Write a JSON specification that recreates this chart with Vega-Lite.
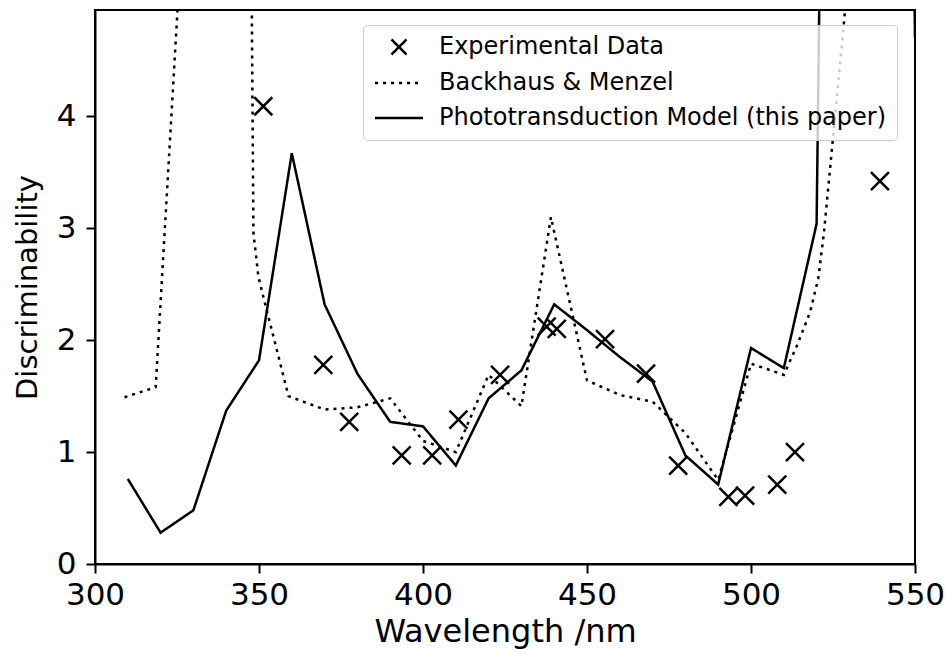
{
  "$schema": "https://vega.github.io/schema/vega-lite/v6.json",
  "width": 820,
  "height": 554,
  "autosize": {"type": "none"},
  "padding": {"left": 95, "top": 10, "right": 30, "bottom": 91},
  "background": "white",
  "config": {
    "view": {"stroke": "black", "strokeWidth": 2},
    "font": "DejaVu Sans",
    "axis": {
      "grid": false,
      "domainColor": "black",
      "domainWidth": 2,
      "tickColor": "black",
      "tickWidth": 2,
      "tickSize": 9,
      "labelFlush": false,
      "labelOverlap": false,
      "labelFont": "DejaVu Sans",
      "labelFontSize": 31,
      "labelColor": "black",
      "titleFont": "DejaVu Sans",
      "titleFontSize": 29,
      "titleFontWeight": "normal",
      "titleColor": "black"
    },
    "legend": {
      "orient": "none",
      "legendX": 268,
      "legendY": 15,
      "direction": "vertical",
      "padding": 10,
      "fillColor": "rgba(255,255,255,0.8)",
      "strokeColor": "#cccccc",
      "cornerRadius": 4,
      "symbolSize": 400,
      "symbolOffset": 14,
      "labelOffset": 28,
      "rowPadding": 11,
      "labelFont": "DejaVu Sans",
      "labelFontSize": 24,
      "labelColor": "black",
      "labelLimit": 1000,
      "symbolStrokeColor": "black",
      "symbolFillColor": "transparent",
      "symbolStrokeWidth": 2.5
    }
  },
  "data": {
    "values": [
      {"wl": 310, "val": 0.76, "series": "Phototransduction Model (this paper)"},
      {"wl": 320, "val": 0.28, "series": "Phototransduction Model (this paper)"},
      {"wl": 330, "val": 0.48, "series": "Phototransduction Model (this paper)"},
      {"wl": 340, "val": 1.37, "series": "Phototransduction Model (this paper)"},
      {"wl": 350, "val": 1.82, "series": "Phototransduction Model (this paper)"},
      {"wl": 360, "val": 3.67, "series": "Phototransduction Model (this paper)"},
      {"wl": 370, "val": 2.32, "series": "Phototransduction Model (this paper)"},
      {"wl": 380, "val": 1.70, "series": "Phototransduction Model (this paper)"},
      {"wl": 390, "val": 1.27, "series": "Phototransduction Model (this paper)"},
      {"wl": 400, "val": 1.23, "series": "Phototransduction Model (this paper)"},
      {"wl": 410, "val": 0.88, "series": "Phototransduction Model (this paper)"},
      {"wl": 420, "val": 1.48, "series": "Phototransduction Model (this paper)"},
      {"wl": 430, "val": 1.73, "series": "Phototransduction Model (this paper)"},
      {"wl": 440, "val": 2.32, "series": "Phototransduction Model (this paper)"},
      {"wl": 450, "val": 2.09, "series": "Phototransduction Model (this paper)"},
      {"wl": 460, "val": 1.85, "series": "Phototransduction Model (this paper)"},
      {"wl": 470, "val": 1.63, "series": "Phototransduction Model (this paper)"},
      {"wl": 480, "val": 0.97, "series": "Phototransduction Model (this paper)"},
      {"wl": 490, "val": 0.71, "series": "Phototransduction Model (this paper)"},
      {"wl": 500, "val": 1.93, "series": "Phototransduction Model (this paper)"},
      {"wl": 510, "val": 1.75, "series": "Phototransduction Model (this paper)"},
      {"wl": 520, "val": 3.04, "series": "Phototransduction Model (this paper)"},
      {"wl": 530, "val": 27, "series": "Phototransduction Model (this paper)"},
      {"wl": 540, "val": 30, "series": "Phototransduction Model (this paper)"},
      {"wl": 550, "val": 4.7, "series": "Phototransduction Model (this paper)"},

      {"wl": 309, "val": 1.49, "series": "Backhaus & Menzel"},
      {"wl": 318.5, "val": 1.58, "series": "Backhaus & Menzel"},
      {"wl": 330, "val": 7.4, "series": "Backhaus & Menzel"},
      {"wl": 347, "val": 8.2, "series": "Backhaus & Menzel"},
      {"wl": 348.3, "val": 2.96, "series": "Backhaus & Menzel"},
      {"wl": 349.8, "val": 2.57, "series": "Backhaus & Menzel"},
      {"wl": 351.3, "val": 2.39, "series": "Backhaus & Menzel"},
      {"wl": 359, "val": 1.50, "series": "Backhaus & Menzel"},
      {"wl": 370, "val": 1.38, "series": "Backhaus & Menzel"},
      {"wl": 380, "val": 1.40, "series": "Backhaus & Menzel"},
      {"wl": 390, "val": 1.48, "series": "Backhaus & Menzel"},
      {"wl": 400, "val": 1.10, "series": "Backhaus & Menzel"},
      {"wl": 410, "val": 1.00, "series": "Backhaus & Menzel"},
      {"wl": 420, "val": 1.69, "series": "Backhaus & Menzel"},
      {"wl": 430, "val": 1.41, "series": "Backhaus & Menzel"},
      {"wl": 439, "val": 3.10, "series": "Backhaus & Menzel"},
      {"wl": 450, "val": 1.64, "series": "Backhaus & Menzel"},
      {"wl": 460, "val": 1.51, "series": "Backhaus & Menzel"},
      {"wl": 470, "val": 1.45, "series": "Backhaus & Menzel"},
      {"wl": 480, "val": 1.17, "series": "Backhaus & Menzel"},
      {"wl": 490, "val": 0.75, "series": "Backhaus & Menzel"},
      {"wl": 500, "val": 1.79, "series": "Backhaus & Menzel"},
      {"wl": 510, "val": 1.69, "series": "Backhaus & Menzel"},
      {"wl": 514, "val": 1.95, "series": "Backhaus & Menzel"},
      {"wl": 518, "val": 2.25, "series": "Backhaus & Menzel"},
      {"wl": 520.5, "val": 2.55, "series": "Backhaus & Menzel"},
      {"wl": 522.2, "val": 2.95, "series": "Backhaus & Menzel"},
      {"wl": 524, "val": 3.5, "series": "Backhaus & Menzel"},
      {"wl": 525.6, "val": 4.0, "series": "Backhaus & Menzel"},
      {"wl": 527.1, "val": 4.45, "series": "Backhaus & Menzel"},
      {"wl": 528.7, "val": 4.95, "series": "Backhaus & Menzel"},
      {"wl": 531, "val": 5.8, "series": "Backhaus & Menzel"},

      {"wl": 351.3, "val": 4.09, "series": "Experimental Data"},
      {"wl": 369.6, "val": 1.78, "series": "Experimental Data"},
      {"wl": 377.5, "val": 1.27, "series": "Experimental Data"},
      {"wl": 393.5, "val": 0.97, "series": "Experimental Data"},
      {"wl": 402.8, "val": 0.97, "series": "Experimental Data"},
      {"wl": 410.8, "val": 1.29, "series": "Experimental Data"},
      {"wl": 423.5, "val": 1.69, "series": "Experimental Data"},
      {"wl": 437.7, "val": 2.12, "series": "Experimental Data"},
      {"wl": 440.8, "val": 2.10, "series": "Experimental Data"},
      {"wl": 455.5, "val": 2.01, "series": "Experimental Data"},
      {"wl": 468, "val": 1.70, "series": "Experimental Data"},
      {"wl": 477.8, "val": 0.88, "series": "Experimental Data"},
      {"wl": 493.1, "val": 0.60, "series": "Experimental Data"},
      {"wl": 498.2, "val": 0.61, "series": "Experimental Data"},
      {"wl": 508, "val": 0.71, "series": "Experimental Data"},
      {"wl": 513.4, "val": 1.00, "series": "Experimental Data"},
      {"wl": 539.3, "val": 3.42, "series": "Experimental Data"}
    ]
  },
  "encoding": {
    "x": {
      "field": "wl",
      "type": "quantitative",
      "scale": {"domain": [300, 550], "nice": false, "zero": false},
      "axis": {"values": [300, 350, 400, 450, 500, 550], "title": "Wavelength /nm", "labelPadding": 7, "titlePadding": 6, "titleFontSize": 32}
    },
    "y": {
      "field": "val",
      "type": "quantitative",
      "scale": {"domain": [0, 4.95], "nice": false},
      "axis": {"values": [0, 1, 2, 3, 4], "title": "Discriminability", "labelPadding": 10, "titlePadding": 14}
    }
  },
  "layer": [
    {
      "transform": [{"filter": "datum.series !== 'Experimental Data'"}],
      "mark": {"type": "line", "clip": true, "color": "black", "strokeWidth": 2.5, "strokeCap": "butt"},
      "encoding": {
        "strokeDash": {
          "field": "series",
          "type": "nominal",
          "scale": {
            "domain": ["Experimental Data", "Backhaus & Menzel", "Phototransduction Model (this paper)"],
            "range": [[1, 0], [3, 5], [1, 0]]
          },
          "legend": {"title": null}
        }
      }
    },
    {
      "transform": [{"filter": "datum.series === 'Experimental Data'"}],
      "mark": {"type": "point", "filled": false, "color": "black", "strokeWidth": 2.5, "size": 576, "opacity": 1},
      "encoding": {
        "shape": {
          "field": "series",
          "type": "nominal",
          "scale": {
            "domain": ["Experimental Data", "Backhaus & Menzel", "Phototransduction Model (this paper)"],
            "range": ["M-0.75,-0.75L0.75,0.75M0.75,-0.75L-0.75,0.75", "M-2.4,0L2.4,0", "M-2.4,0L2.4,0"]
          },
          "legend": {"title": null}
        }
      }
    }
  ]
}
